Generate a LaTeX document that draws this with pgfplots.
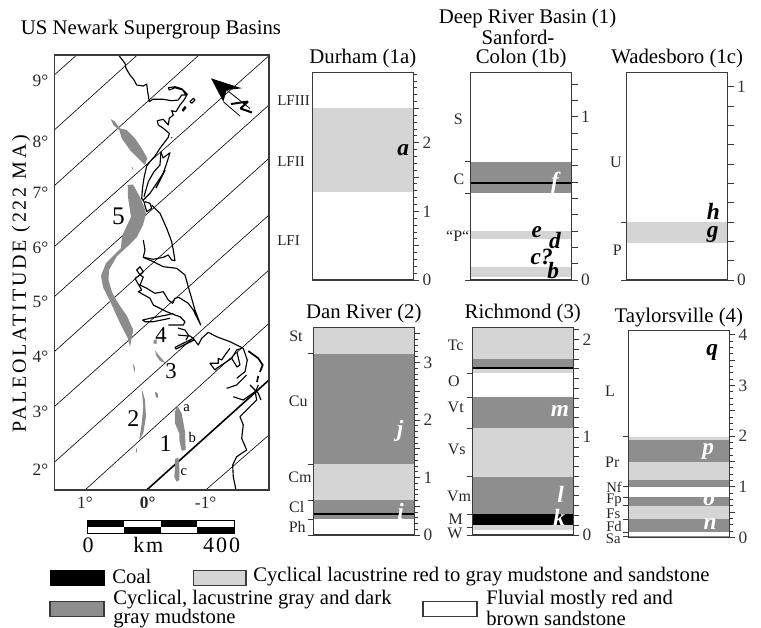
\documentclass[border=0pt]{standalone}
\usepackage{fontspec}
\setmainfont{Liberation Serif}
\newfontfamily\spaced[LetterSpace=14]{Liberation Serif}
\newfontfamily\spacedb[LetterSpace=9]{Liberation Serif}
\usepackage{pgfplots}
\pgfplotsset{compat=1.18}
\newcommand\fs[1]{\fontsize{#1}{#1}\selectfont}
\definecolor{lite}{HTML}{D5D5D5}
\definecolor{dark}{HTML}{8E8E8E}
\definecolor{frm}{HTML}{3A3A3A}
\definecolor{grid}{HTML}{777777}
\definecolor{basin}{HTML}{8C8C8C}
\newcommand\band[3]{\addplot[fill=#3,draw=none,forget plot] coordinates {(0,#1)(1,#1)(1,#2)(0,#2)} --cycle;}
\newcommand\ltick[1]{\pgfplotsinvokeforeach{#1}{\draw[frm,line width=0.6pt] (axis cs:-0.055,##1)--(axis cs:0,##1);}}
\pgfplotsset{
  panel/.style n args={3}{
    at={(#1*0.75pt,-#2*0.75pt)},anchor=south west,scale only axis,
    width=75.75pt,height=155.5pt,xmin=0,xmax=1,ymin=0,ymax=#3,xtick=\empty,
    ytick pos=right,yticklabel pos=right,tick align=outside,axis on top,clip=false,
    axis line style={frm,line width=0.8pt},
    every tick/.style={frm,line width=0.6pt},
    major tick length=4.5pt,minor tick length=3pt,
    /pgf/number format/assume math mode=true,
    yticklabel style={font=\fs{13},text=black!80,xshift=-1pt},
    title style={font=\fs{15.6},at={(axis description cs:0.5,1)},anchor=center,yshift=4.3pt},
  },
  half/.style={extra y tick labels={},extra y tick style={major tick length=4pt}},
  coast/.style={black,line width=0.85pt,line join=round,no marks,forget plot},
  lat/.style={grid,line width=0.45pt,no marks,forget plot},
  basinf/.style={fill=basin,draw=none,no marks,forget plot},
}
\begin{document}
\begin{tikzpicture}[x=0.75pt,y=-0.75pt]
\path (0,0) rectangle (761,627);

% ---------- map ----------
\begin{axis}[at={(54.3*0.75pt,-490*0.75pt)},anchor=south west,scale only axis,
  width=161pt,height=326.25pt,xmin=54.3,xmax=269,ymin=55,ymax=490,y dir=reverse,
  axis line style={frm,line width=1pt},axis on top,major tick length=0pt,
  xtick={85,147.7,205.7},xticklabels={1°,\textbf{0°},-1°},
  ytick={80.7,141.7,193,248,301.7,356.7,411.7,470},
  yticklabels={9°,8°,7°,6°,5°,4°,3°,2°},
  ytick pos=left,xtick pos=bottom,
  ticklabel style={font=\fs{13},text=black!85},
  xticklabel style={yshift=-2pt},
  yticklabel style={xshift=-1pt},
  ylabel={\spaced PALEOLATITUDE (222 MA)},
  every axis y label/.style={at={(axis description cs:-0.155,0.4736)},rotate=90,anchor=center,font=\fs{15}}]
\addplot[lat] coordinates {(54.3,75)(76.7,55)};
\addplot[lat] coordinates {(54.3,130)(137.3,55)};
\addplot[lat] coordinates {(54.3,185.7)(199,55)};
\addplot[lat] coordinates {(54.3,246.7)(269,55.7)};
\addplot[lat] coordinates {(54.3,296.7)(269,105)};
\addplot[lat] coordinates {(54.3,351.7)(269,158.3)};
\addplot[lat] coordinates {(54.3,406.7)(269,215)};
\addplot[lat] coordinates {(54.3,462.3)(269,270)};
\addplot[lat] coordinates {(85,490)(269,323.3)};
\addplot[lat] coordinates {(205.7,490)(269,435)};
\addplot[black,line width=1.2pt,no marks,forget plot] coordinates {(146.7,490)(269,380)};
% basins
\addplot[basinf] coordinates {(110.7,119)(115,121.7)(120,128.3)(126.7,130)(135,138.3)(141.7,148.3)(147.3,158.3)(145,165)(138.3,158.3)(130,150)(121.7,138.3)(119.3,130)(113.3,125)} --cycle;
\addplot[basinf] coordinates {(127.7,185)(133,184.5)(140,197)(144.5,208)(146,214)(143,225)(137,237)(128,246)(117,256)(109,270)(108.5,280)(112,292)(118,303)(127,316)(133.3,330)(130,346.7)(127.7,338)(120,323)(110,301)(103,287)(101,276)(106,263)(121,248)(122,236)(131,217)(128,197)} --cycle;
\addplot[basinf] coordinates {(154,340)(156.7,339.3)(156.7,344)(153.3,343.3)} --cycle;
\addplot[basinf] coordinates {(155,350.7)(160,356.7)(165.7,363.3)(160,361)(156,355)} --cycle;
\addplot[basinf] coordinates {(133.3,363.3)(135,368)(135,373)(133.5,368)} --cycle;
\addplot[basinf] coordinates {(141.7,388.3)(145,400)(146,416.7)(143.3,433.3)(139.3,440)(141.7,423.3)(143.3,406.7)} --cycle;
\addplot[basinf] coordinates {(136,452.7)(136.2,448.3)(137,448.3)(136.7,452.7)} --cycle;
\addplot[basinf] coordinates {(155,391.7)(157.7,393.3)(158.3,398.3)(155.7,396.7)} --cycle;
\addplot[basinf] coordinates {(131.7,167)(132.5,167)(133.5,170)(132.8,170)} --cycle;
\addplot[basinf] coordinates {(177.3,406)(181.7,413.3)(185,431.7)(185.7,450)(181.7,450.7)(179.3,440)(179.3,433.3)(175,423.3)(175,411.7)} --cycle;
\addplot[basinf] coordinates {(175,459.3)(178.3,457.3)(179.3,466.7)(179.3,480)(176.7,481.7)(174.3,476.7)(175,468.3)} --cycle;
% coast
\addplot[coast] coordinates {(119.3,56)(125,63.3)(126,68.3)(130,75)(134,80)(136.7,85)(143.3,86)(146.7,84)(147.7,91.7)(149.3,101.7)(152.7,99.3)(163.3,99.3)(171.7,100.7)(178.3,100)(181.7,95)(186,95)(182.7,90)(175,87.7)(169.3,90)(168.3,87.7)(175,86.7)(181.7,88.7)(187.3,94.3)(184,100)(180,105)(176,111.7)(171.7,110.7)(173.3,115)(169.3,118.3)(168.3,125)(163.3,119.3)(157.3,120.7)(158.3,125)(163.3,128.3)(169.3,133.3)(168.3,137.3)(165,141.7)(160,148.3)(155,156)(150,161.7)(146.7,166)(144,178)(142.7,186.7)(141.7,198.3)(145,203.3)};
\addplot[coast] coordinates {(190,101.7)(193.3,98.3)(195,100)(191.7,103.3)} --cycle;
\addplot[coast] coordinates {(182.3,110)(185,106.7)(186,107.7)(183.3,111)} --cycle;
\addplot[coast] coordinates {(171.5,137.3)(172,138)};
\addplot[coast] coordinates {(161,151.7)(160,165)(154,171.7)(148.3,181.7)(144,196.7)};
\addplot[coast] coordinates {(161,151.7)(163,158)(170,152.7)(166.7,163.3)(163.3,173.3)(156.7,183.3)(150,193.3)(143.3,200)};
\addplot[black,line width=1.1pt,no marks,forget plot] coordinates {(165,170)(160,180)(156,188)};
\addplot[coast] coordinates {(145,201.7)(150,203.3)(151.7,208.3)(146.7,211.7)(144.3,203.3)};
\addplot[coast] coordinates {(151.7,205)(160,213.3)(166.7,228.3)(171.7,241.7)(173.3,250)(175,260.7)(171.7,260)(168.3,255)(163.3,257.3)(153.3,259.3)(143.3,257.3)(145,250)(143.3,240)};
\addplot[coast] coordinates {(143.3,257.3)(153.3,261.7)(163.3,266.7)(176.7,268.3)(185,275)(188.3,286.7)(195,310)(200.7,325)(193.3,310)(188.3,303.3)(178.7,297.3)(175,298.3)(172.7,303.3)(168.3,300)(163.3,291.7)(155,293.3)(146.7,288.3)(140,285)(143.3,277)(140,275)(136.7,270)(140,266.7)(143.3,271.7)(140,275)(135,278.3)(141.7,290)(138.3,291.7)(150,298.3)(153.3,305)(166.7,311.7)(175,315)(180,316.7)(185,321.7)(183.3,325)(168.3,325)};
\addplot[coast] coordinates {(173.3,313.3)(166.7,315)(150,318.3)(142.7,320)(145,321.7)(153.3,321.7)(170,318.3)};
\addplot[coast] coordinates {(178,328)(185,330)(188.3,335)(193.3,338.3)(198.3,345)(201.7,338.3)(208.3,332.3)(216.7,336.7)(230,341.7)(243.3,348.3)(247.3,360)(245,371.7)(236.7,378.3)};
\addplot[coast] coordinates {(175,347.3)(193.3,338.3)(194,340)(176,349)(175,347.3)};
\addplot[coast] coordinates {(178,335)(188.3,336)(186,340)};
\addplot[coast] coordinates {(230,348.3)(225,355)(221.7,360)(218.3,358.3)(218.3,363.3)(210,363.3)(215,370)(216.7,368.3)(231.7,358.3)(236.7,350)(241.7,348.3)};
\addplot[coast] coordinates {(231.7,358.3)(237,367)(240,365)(237,352)};
\addplot[black,line width=1.3pt,no marks,forget plot] coordinates {(248.3,351)(258.3,358.3)(262.7,365)(260,372)};
\addplot[black,line width=1.2pt,no marks,forget plot] coordinates {(258.3,376)(257,382)};
\addplot[coast] coordinates {(258.3,385)(255,393.3)};
\addplot[coast] coordinates {(226.7,388.3)(236.7,385)(246.7,375)};
\addplot[coast] coordinates {(233.3,396.7)(243.3,400)(255,391.7)};
\addplot[coast] coordinates {(250,385)(255,390)(258.3,393.3)(261,400)};
\addplot[coast] coordinates {(255,390)(256.7,400)(246.7,410)(240,416.7)(243.3,425)(241.7,438.3)(246.7,450)(236.7,456.7)(232.7,465)(233.3,476.7)(236,490)};
\end{axis}

% ---------- strat columns ----------
\begin{axis}[panel={312.3}{280}{3.02},title={Durham (1a)},ytick={0,1,2},
  minor ytick={0,0.1,...,3.01},extra y ticks={0.5,1.5,2.5},half]
\band{1.28}{2.51}{lite}
\end{axis}
\begin{axis}[panel={470.7}{280}{1.27},title={Colon (1b)},ytick={0,1},
  minor ytick={0,0.1,...,1.21},minor tick length=4.5pt]
\band{0.02}{0.08}{lite}
\band{0.25}{0.30}{lite}
\band{0.53}{0.725}{dark}
\band{0.586}{0.602}{black}
\ltick{0,0.53,0.725}
\end{axis}
\begin{axis}[panel={626.7}{280}{1.072},title={Wadesboro (1c)},ytick={0,1},
  minor ytick={0,0.1,...,1.01},minor tick length=4.5pt]
\band{0.193}{0.30}{lite}
\ltick{0,0.30}
\end{axis}
\begin{axis}[panel={313.3}{535}{3.605},title={Dan River (2)},ytick={0,1,2,3},
  minor ytick={0,0.1,...,3.51},extra y ticks={0.5,1.5,2.5,3.5},half]
\band{0.278}{0.61}{dark}
\band{0.35}{0.39}{black}
\band{0.61}{1.235}{lite}
\band{1.235}{3.15}{dark}
\band{3.15}{3.605}{lite}
\ltick{0,0.278,0.61,1.235,3.15}
\end{axis}
\begin{axis}[panel={472.3}{535}{2.12},title={Richmond (3)},ytick={0,1,2},
  minor ytick={0,0.1,...,2.11},minor tick length=4.5pt]
\band{0.05}{0.10}{lite}
\band{0.10}{0.215}{black}
\band{0.215}{0.596}{dark}
\band{0.596}{1.09}{lite}
\band{1.09}{1.407}{dark}
\band{1.652}{1.70}{lite}
\band{1.70}{1.717}{black}
\band{1.717}{1.796}{dark}
\band{1.796}{2.12}{lite}
\ltick{0,0.08,0.215,0.596,1.09,1.407,1.652}
\end{axis}
\begin{axis}[panel={628.3}{537.5}{4.09},title={Taylorsville (4)},ytick={0,1,2,3,4},
  title style={yshift=-1pt},
  minor ytick={0,0.125,...,4.01},extra y ticks={0.5,1.5,2.5,3.5},half]
\band{0}{0.03}{dark}
\band{0.10}{0.36}{dark}
\band{0.36}{0.625}{lite}
\band{0.625}{0.80}{dark}
\band{1.0}{1.125}{dark}
\band{1.125}{1.49}{lite}
\band{1.49}{1.93}{dark}
\band{1.93}{1.99}{lite}
\ltick{0.03,0.10,0.36,0.625,0.80,1.0,2.0}
\end{axis}

% ---------- titles ----------
\node[font=\fs{15.6}] at (151,30) {US Newark Supergroup Basins};
\node[font=\fs{15.6}] at (527.5,18) {Deep River Basin (1)};
\node[font=\fs{15.6}] at (518,37.5) {Sanford-};

% ---------- map labels ----------
\node[font=\fs{19}] at (118.5,216) {5};
\node[font=\fs{17}] at (161,335) {4};
\node[font=\fs{17}] at (171,371) {3};
\node[font=\fs{18}] at (133.3,418.3) {2};
\node[font=\fs{18}] at (165.7,444) {1};
\node[font=\fs{11}] at (186.7,408) {a};
\node[font=\fs{11}] at (192.3,437) {b};
\node[font=\fs{11}] at (184,472) {c};

% north arrow
\fill (211,78.3) -- (241.7,88.3) -- (226.7,90) -- (223.3,101.7) -- cycle;
\draw[line width=0.6pt] (226.7,90) -- (250,108.5) (223.3,101.7) -- (240,116);
\draw[line width=1.5pt,line join=bevel] (231,104) -- (248,101.5) -- (240.5,108.5) -- (252,112.5);

% scale bar
\foreach \a/\b in {87.3/124,160.6/197.3}{
  \fill[black] (\a,520) rectangle (\b,526.7);
  \fill[white] (\a,526.7) rectangle (\b,533.3);
}
\foreach \a/\b in {124/160.6,197.3/234}{
  \fill[white] (\a,520) rectangle (\b,526.7);
  \fill[black] (\a,526.7) rectangle (\b,533.3);
}
\draw[line width=0.7pt] (87.3,520) rectangle (234,533.3);
\node[font=\fs{16.5}\spacedb] at (88,545) {0};
\node[font=\fs{16.5}\spacedb] at (148.3,545) {km};
\node[font=\fs{16.5}\spacedb] at (221.7,545) {400};

% ---------- formation names ----------
\tikzset{fm/.style={font=\fs{12},text=black!85,inner sep=0pt},
         fs/.style={font=\fs{11},text=black!85,inner sep=0pt}}
\node[fm,font=\fs{11.3},anchor=west] at (277,101) {LFIII};
\node[fm,font=\fs{11.3},anchor=west] at (277,161.7) {LFII};
\node[fm,font=\fs{11.3},anchor=west] at (277,241) {LFI};
\node[fm] at (458.3,119) {S};
\node[fm] at (459,179.3) {C};
\node[fm] at (457.7,235.7) {“P“};
\node[fm] at (616,162) {U};
\node[fm] at (617.3,250.7) {P};
\node[fm] at (296,336) {St};
\node[fm] at (298.3,401) {Cu};
\node[fm] at (300,477.3) {Cm};
\node[fm] at (296.7,507) {Cl};
\node[fm] at (297.3,527.3) {Ph};
\node[fm] at (455.7,345.7) {Tc};
\node[fm] at (454,381) {O};
\node[fm] at (455.7,407.7) {Vt};
\node[fm] at (456.7,449) {Vs};
\node[fm] at (459,496.7) {Vm};
\node[fm] at (455.7,519) {M};
\node[fm] at (455,533) {W};
\node[fm] at (610,391.7) {L};
\node[fm] at (612.3,462.7) {Pr};
\node[fs] at (614,487) {Nf};
\node[fs] at (614,500.5) {Fp};
\node[fs] at (613.3,513.3) {Fs};
\node[fs] at (614,526) {Fd};
\node[fs] at (613.3,538.8) {Sa};

% ---------- unit letters ----------
\tikzset{ul/.style={font=\fs{17.5}\bfseries\itshape,inner sep=0pt},uw/.style={ul,text=white}}
\node[ul] at (403.3,150.5) {a};
\node[uw] at (555,182.7) {f};
\node[ul] at (536.7,232.5) {e};
\node[ul] at (555,241) {d};
\node[ul] at (541.7,257) {c?};
\node[ul] at (553.3,271) {b};
\node[ul] at (713.3,211) {h};
\node[ul] at (712.7,234) {g};
\node[uw] at (400,431) {j};
\node[uw] at (400.7,511) {i};
\node[uw] at (560,410.5) {m};
\node[uw] at (560.7,494.3) {l};
\node[uw] at (559.3,517) {k};
\node[ul] at (712.3,352) {q};
\node[uw] at (708.3,451) {p};
\node[uw] at (709.3,500) {o};
\node[uw] at (710,524) {n};

% ---------- legend ----------
\tikzset{sw/.style={draw=frm,line width=0.9pt},lg/.style={font=\fs{15.5},anchor=west,inner sep=0pt}}
\fill[black] (49.8,570) rectangle (105,586);
\draw[sw,fill=lite] (193.6,570.7) rectangle (246,585.3);
\draw[sw,fill=dark] (50,601.7) rectangle (104,616.7);
\draw[sw,fill=white] (423,601.7) rectangle (477,616.7);
\node[lg] at (112,576.7) {Coal};
\node[lg] at (253,576.7) {Cyclical lacustrine red to gray mudstone and sandstone};
\node[lg] at (113,600) {Cyclical, lacustrine gray and dark};
\node[lg] at (113,618.5) {gray mudstone};
\node[lg] at (486,599.5) {Fluvial mostly red and};
\node[lg] at (486,618) {brown sandstone};
\end{tikzpicture}
\end{document}
